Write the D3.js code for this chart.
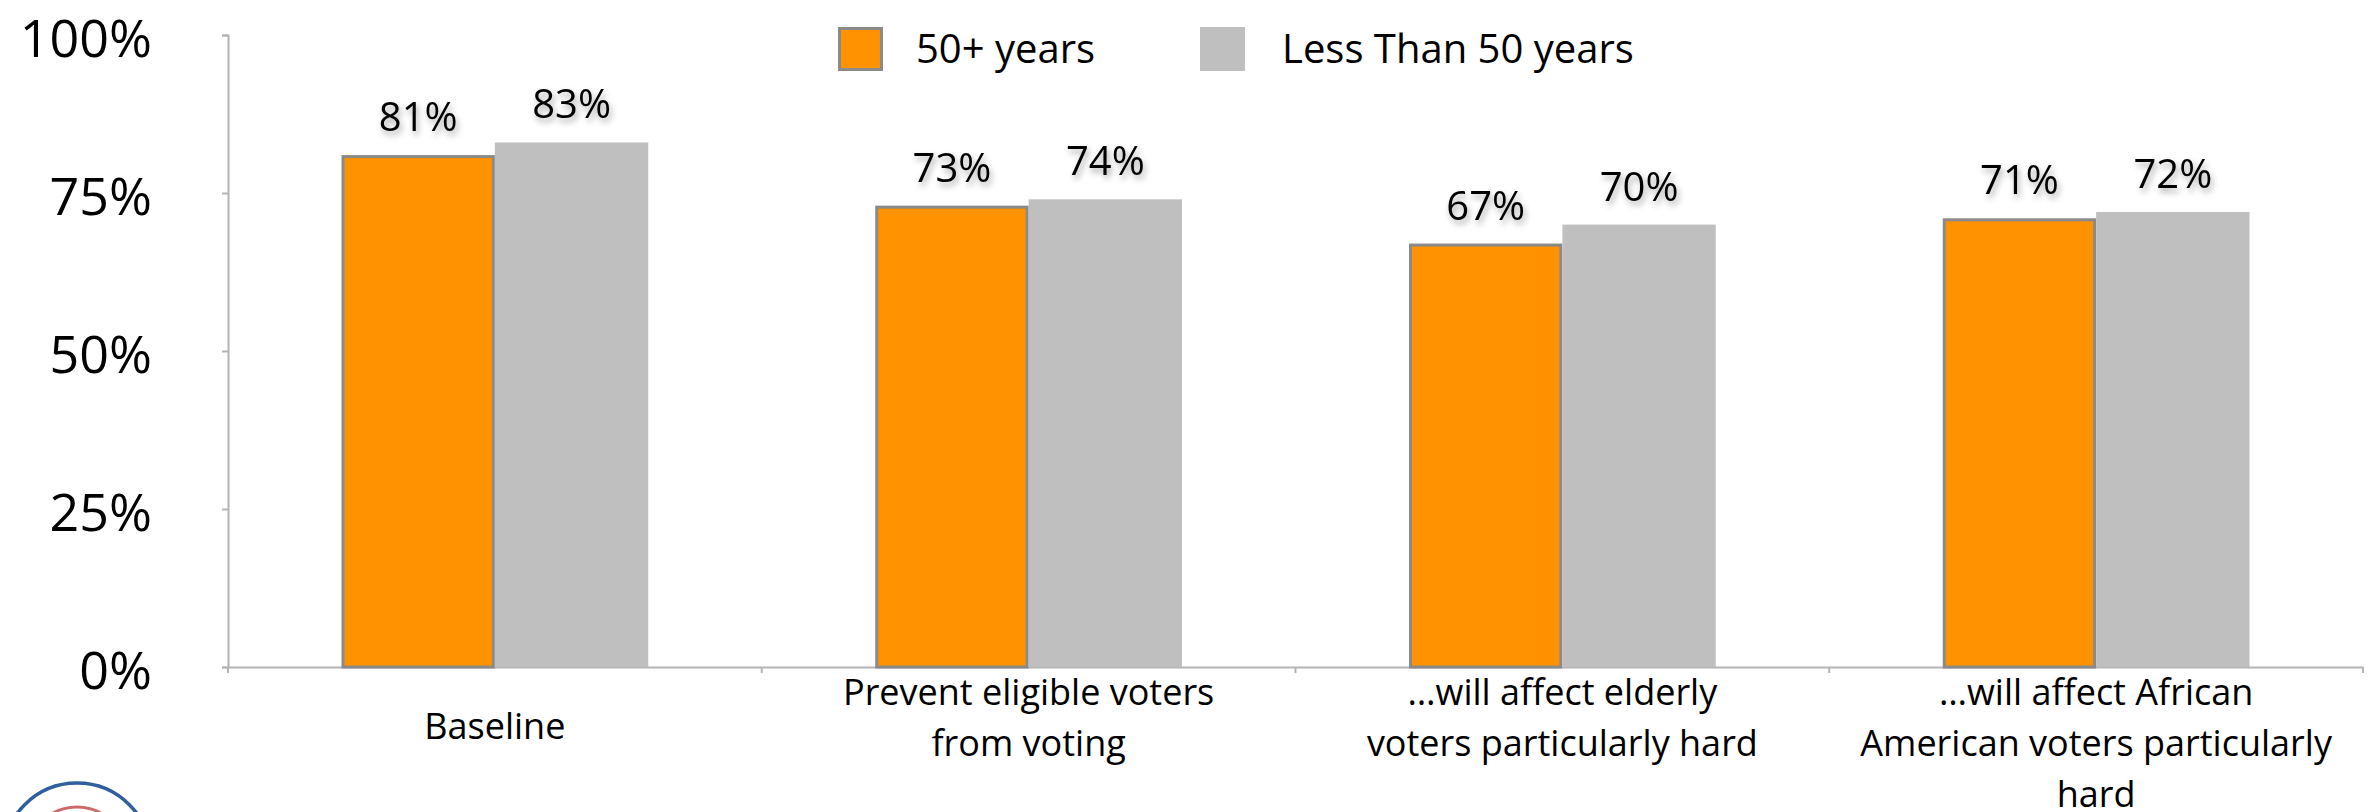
<!DOCTYPE html>
<html>
<head>
<meta charset="utf-8">
<script src="https://cdn.jsdelivr.net/npm/d3@7"></script>
<style>
  html, body { margin: 0; padding: 0; background: #ffffff; }
  svg { display: block; font-family: "Open Sans", "Lato", sans-serif; }
</style>
</head>
<body>
<svg id="chart" width="2375" height="812"></svg>
<script>
// ---- data ----
const categories = ["Baseline", "Prevent eligible voters from voting", "…will affect elderly voters particularly hard", "…will affect African American voters particularly hard"];
const categoryLines = [
  ["Baseline"],
  ["Prevent eligible voters", "from voting"],
  ["…will affect elderly", "voters particularly hard"],
  ["…will affect African", "American voters particularly", "hard"]
];
const seriesNames = ["50+ years", "Less Than 50 years"];
const over50 = [0.81, 0.73, 0.67, 0.71];
const under50 = [0.83, 0.74, 0.70, 0.72];
const yTickValues = [0, 0.25, 0.5, 0.75, 1];
const yTickLabels = ["0%", "25%", "50%", "75%", "100%"];

// ---- layout ----
const W = 2375, H = 812;
const plot = { left: 228, right: 2363, top: 35, bottom: 667 };
const colors = { "50+ years": "#ff9200", "Less Than 50 years": "#bfbfbf" };
const axisColor = "#b4b4b4";

const svg = d3.select("#chart");

const defs = svg.append("defs");
const f = defs.append("filter").attr("id", "shadow")
  .attr("x", "-20%").attr("y", "-30%").attr("width", "150%").attr("height", "170%");
f.append("feDropShadow").attr("dx", 2).attr("dy", 4).attr("stdDeviation", 3)
  .attr("flood-color", "#000").attr("flood-opacity", 0.35);

const y = d3.scaleLinear().domain([0, 1]).range([plot.bottom, plot.top]);
const x0 = d3.scaleBand().domain(categories).range([plot.left, plot.right]).paddingInner(0).paddingOuter(0);
const x1 = d3.scaleBand().domain(seriesNames).range([0, x0.bandwidth()]).paddingInner(0).paddingOuter(0.74);

const rows = categories.map((c, i) => ({
  cat: c,
  lines: categoryLines[i],
  vals: [
    { s: seriesNames[0], v: over50[i] },
    { s: seriesNames[1], v: under50[i] }
  ]
}));

// ---- y axis ----
const yAxis = d3.axisLeft(y).tickValues(yTickValues)
  .tickFormat((d, i) => yTickLabels[i]).tickSize(6).tickPadding(70);
const gy = svg.append("g").attr("transform", `translate(${plot.left},0)`).call(yAxis);
gy.select(".domain").attr("stroke", axisColor).attr("stroke-width", 2);
gy.selectAll(".tick line").attr("stroke", axisColor).attr("stroke-width", 2);
gy.selectAll(".tick text").attr("font-size", 52).attr("fill", "#000")
  .attr("font-family", "'Open Sans', sans-serif").attr("dy", "0.42em");

// ---- x axis ----
const xAxis = d3.axisBottom(x0).tickSize(0).tickFormat("");
const gx = svg.append("g").attr("transform", `translate(0,${plot.bottom})`).call(xAxis);
gx.select(".domain").attr("stroke", axisColor).attr("stroke-width", 2);
gx.selectAll(".tick").remove();
gx.selectAll("line.bound").data(categories).join("line").attr("class", "bound")
  .attr("x1", d => x0(d) + x0.bandwidth()).attr("x2", d => x0(d) + x0.bandwidth())
  .attr("y1", 0).attr("y2", 6).attr("stroke", axisColor).attr("stroke-width", 2);
gx.append("line").attr("x1", plot.left).attr("x2", plot.left).attr("y1", 0).attr("y2", 6)
  .attr("stroke", axisColor).attr("stroke-width", 2);

// ---- bars ----
const groups = svg.append("g").selectAll("g.cat").data(rows).join("g")
  .attr("class", "cat").attr("transform", d => `translate(${x0(d.cat)},0)`);

groups.selectAll("rect").data(d => d.vals).join("rect")
  .attr("x", d => x1(d.s) + (d.s === seriesNames[0] ? 1.5 : 0))
  .attr("y", d => y(d.v) + (d.s === seriesNames[0] ? 1.5 : 0))
  .attr("width", d => x1.bandwidth() - (d.s === seriesNames[0] ? 3 : 0))
  .attr("height", d => y(0) - y(d.v) - (d.s === seriesNames[0] ? 1.5 : 0))
  .attr("fill", d => colors[d.s])
  .attr("stroke", d => d.s === seriesNames[0] ? "#8a8a8a" : "none")
  .attr("stroke-width", 3);

groups.selectAll("text.val").data(d => d.vals).join("text")
  .attr("class", "val")
  .attr("x", d => x1(d.s) + x1.bandwidth() / 2)
  .attr("y", d => y(d.v) - 24)
  .attr("text-anchor", "middle")
  .attr("font-size", 40)
  .attr("fill", "#000")
  .attr("filter", "url(#shadow)")
  .text(d => Math.round(d.v * 100) + "%");

// ---- category labels ----
const lineH = 51;
groups.each(function(d) {
  const g = d3.select(this);
  const first = d.lines.length === 1 ? plot.bottom + 72 : plot.bottom + 38;
  const t = g.append("text")
    .attr("text-anchor", "middle")
    .attr("font-size", 36)
    .attr("fill", "#000");
  d.lines.forEach((ln, i) => {
    t.append("tspan").attr("x", x0.bandwidth() / 2).attr("y", first + i * lineH).text(ln);
  });
});

// ---- legend ----
const legend = svg.append("g").attr("transform", "translate(838,27)");
const li = legend.selectAll("g").data(seriesNames).join("g")
  .attr("transform", (d, i) => `translate(${i * 362},0)`);
li.append("rect")
  .attr("x", (d, i) => i === 0 ? 1.5 : 0).attr("y", (d, i) => i === 0 ? 1.5 : 0)
  .attr("width", (d, i) => i === 0 ? 42 : 45).attr("height", (d, i) => i === 0 ? 41 : 44)
  .attr("fill", d => colors[d])
  .attr("stroke", (d, i) => i === 0 ? "#8a8a8a" : "none").attr("stroke-width", 3);
li.append("text").attr("x", (d, i) => i === 0 ? 78 : 82).attr("y", 36)
  .attr("font-size", 40).attr("fill", "#000").text(d => d);

// ---- logo fragment (bottom-left) ----
const logo = svg.append("g").attr("transform", "translate(77,857)");
logo.append("circle").attr("r", 74).attr("fill", "none").attr("stroke", "#2f5f9e").attr("stroke-width", 3.5);
logo.append("circle").attr("r", 50).attr("fill", "none").attr("stroke", "#cf6a6a").attr("stroke-width", 3);
</script>
</body>
</html>
